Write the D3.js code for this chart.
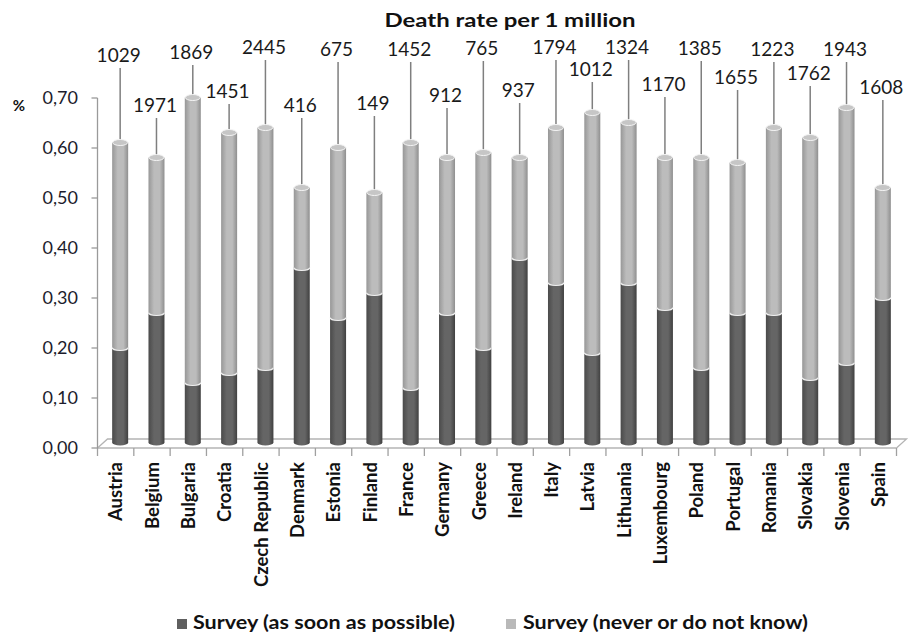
<!DOCTYPE html>
<html>
<head>
<meta charset="utf-8">
<script src="https://cdn.jsdelivr.net/npm/d3@7"></script>
<style>
  html, body { margin: 0; padding: 0; background: #fff; }
  svg { display: block; font-family: Lato, "Open Sans", sans-serif; }
</style>
</head>
<body>
<svg id="chart" width="909" height="635"></svg>
<script>
// Countries in display order
const countries = ["Austria", "Belgium", "Bulgaria", "Croatia", "Czech Republic", "Denmark",
  "Estonia", "Finland", "France", "Germany", "Greece", "Ireland", "Italy", "Latvia",
  "Lithuania", "Luxembourg", "Poland", "Portugal", "Romania", "Slovakia", "Slovenia", "Spain"];

// Survey share answering "as soon as possible"
const soonShare = [0.19, 0.26, 0.12, 0.14, 0.15, 0.35, 0.25, 0.30, 0.11, 0.26, 0.19,
  0.37, 0.32, 0.18, 0.32, 0.27, 0.15, 0.26, 0.26, 0.13, 0.16, 0.29];

// Survey share answering "never or do not know" (stacked on top)
const neverShare = [0.41, 0.31, 0.57, 0.48, 0.48, 0.16, 0.34, 0.20, 0.49, 0.31, 0.39,
  0.20, 0.31, 0.48, 0.32, 0.30, 0.42, 0.30, 0.37, 0.48, 0.51, 0.22];

// Death rate per 1 million inhabitants
const deathRate = [1029, 1971, 1869, 1451, 2445, 416, 675, 149, 1452, 912, 765,
  937, 1794, 1012, 1324, 1170, 1385, 1655, 1223, 1762, 1943, 1608];

// Value-axis ticks
const yTicks = [0, 0.1, 0.2, 0.3, 0.4, 0.5, 0.6, 0.7];

const seriesNames = ["Survey (as soon as possible)", "Survey (never or do not know)"];

// Height (in axis units) at which each death-rate callout is placed
const calloutLevel = [0.786, 0.686, 0.792, 0.714, 0.802, 0.686, 0.798, 0.690, 0.798, 0.706, 0.800,
  0.716, 0.802, 0.758, 0.802, 0.728, 0.800, 0.742, 0.798, 0.750, 0.798, 0.722];

const svg = d3.select("#chart");

// Front plane of the 3-D box
const x = d3.scaleBand().domain(countries).range([97.5, 896.5]).padding(0);
const y = d3.scaleLinear().domain([0, 0.7]).range([448, 98]);

// Depth offsets: floor back edge and the plane the columns stand in
const backDx = 10, backDy = 9;
const barDx = 4.5, barDy = 5.5;
const barW = 16, capRy = 3;

const fmt = v => d3.format(".2f")(v).replace(".", ",");

const defs = svg.append("defs");
function cylGrad(id, edgeL, mid, edgeR) {
  const g = defs.append("linearGradient").attr("id", id).attr("x1", 0).attr("x2", 1).attr("y1", 0).attr("y2", 0);
  g.append("stop").attr("offset", "0%").attr("stop-color", edgeL);
  g.append("stop").attr("offset", "35%").attr("stop-color", mid);
  g.append("stop").attr("offset", "70%").attr("stop-color", mid);
  g.append("stop").attr("offset", "100%").attr("stop-color", edgeR);
}
cylGrad("gDark", "#4a4a4a", "#656565", "#404040");
cylGrad("gLight", "#979797", "#bcbcbc", "#8f8f8f");

// Title
svg.append("text")
  .attr("x", 510).attr("y", 27)
  .attr("text-anchor", "middle")
  .attr("font-weight", 700).attr("font-size", 18.5)
  .attr("fill", "#111")
  .attr("textLength", 251).attr("lengthAdjust", "spacingAndGlyphs")
  .text("Death rate per 1 million");

// Axis unit
svg.append("text")
  .attr("x", 19).attr("y", 111)
  .attr("text-anchor", "middle")
  .attr("font-weight", 700).attr("font-size", 15)
  .attr("fill", "#111")
  .text("%");

// Floor outline
const x0 = x.range()[0], x1 = x.range()[1], yb = y(0);
const floor = svg.append("g").attr("stroke", "#b4b4b4").attr("stroke-width", 1.3).attr("fill", "none");
floor.append("path").attr("d",
  `M${x0},${yb} L${x0 + backDx},${yb - backDy} L${x1 + backDx},${yb - backDy} L${x1},${yb}`);
floor.append("line").attr("x1", x0).attr("x2", x1).attr("y1", yb).attr("y2", yb);

// Category ticks along the front edge
const catEdges = countries.map(c => x(c)).concat([x1]);
svg.append("g").selectAll("line").data(catEdges).join("line")
  .attr("x1", d => d).attr("x2", d => d)
  .attr("y1", yb).attr("y2", yb + 8)
  .attr("stroke", "#a0a0a0").attr("stroke-width", 1.3);

// Value axis
svg.append("line")
  .attr("x1", x0).attr("x2", x0).attr("y1", y(0.7)).attr("y2", yb)
  .attr("stroke", "#9a9a9a").attr("stroke-width", 1.3);
const yAxis = svg.append("g");
yAxis.selectAll("line").data(yTicks).join("line")
  .attr("x1", x0 - 6).attr("x2", x0)
  .attr("y1", d => y(d)).attr("y2", d => y(d))
  .attr("stroke", "#9a9a9a").attr("stroke-width", 1.3);
yAxis.selectAll("text").data(yTicks).join("text")
  .attr("x", 78).attr("y", d => y(d)).attr("dy", "0.36em")
  .attr("text-anchor", "end")
  .attr("font-size", 18).attr("fill", "#1c1c2c")
  .text(fmt);

// Category labels
svg.append("g").selectAll("text").data(countries).join("text")
  .attr("transform", d => `translate(${x(d) + x.bandwidth() / 2},462) rotate(-90)`)
  .attr("dy", "0.36em")
  .attr("text-anchor", "end")
  .attr("font-weight", 700).attr("font-size", 18.5)
  .attr("fill", "#111")
  .text(d => d);

// Columns (stacked cylinders)
const yb3 = v => y(v) - barDy;
const cx = c => x(c) + x.bandwidth() / 2 + barDx;

const rows = countries.map((c, i) => ({
  c, soon: soonShare[i], never: neverShare[i], total: soonShare[i] + neverShare[i],
  rate: deathRate[i], level: calloutLevel[i]
}));

const bars = svg.append("g").selectAll("g").data(rows).join("g");

// Callout leader lines behind columns
bars.append("line")
  .attr("x1", d => cx(d.c)).attr("x2", d => cx(d.c))
  .attr("y1", d => y(d.level) + 13).attr("y2", d => yb3(d.total))
  .attr("stroke", "#7f7f7f").attr("stroke-width", 1.5);

function segPath(cxv, yTop, yBot) {
  const l = cxv - barW / 2, r = cxv + barW / 2;
  return `M${l},${yTop} L${l},${yBot} A${barW / 2},${capRy} 0 0 0 ${r},${yBot} L${r},${yTop} Z`;
}

// lower segment
bars.append("path")
  .attr("d", d => segPath(cx(d.c), yb3(d.soon), yb3(0)))
  .attr("fill", "url(#gDark)");
// upper segment
bars.append("path")
  .attr("d", d => segPath(cx(d.c), yb3(d.total), yb3(d.soon)))
  .attr("fill", "url(#gLight)");
// seam between segments
bars.append("path")
  .attr("d", d => {
    const c = cx(d.c), yy = yb3(d.soon);
    return `M${c - barW / 2},${yy} A${barW / 2},${capRy} 0 0 0 ${c + barW / 2},${yy}`;
  })
  .attr("fill", "none").attr("stroke", "#f0f0f0").attr("stroke-width", 1.2);
// top cap
bars.append("ellipse")
  .attr("cx", d => cx(d.c)).attr("cy", d => yb3(d.total))
  .attr("rx", barW / 2 - 0.5).attr("ry", capRy)
  .attr("fill", "#c6c6c6").attr("stroke", "#f4f4f4").attr("stroke-width", 1);

// Death-rate callouts
bars.append("text")
  .attr("x", d => cx(d.c) - 1.5).attr("y", d => y(d.level)).attr("dy", "0.36em")
  .attr("text-anchor", "middle")
  .attr("font-size", 19).attr("fill", "#1a1a1a")
  .text(d => d.rate);

// Legend
const legend = svg.append("g");
const legendItems = [
  { name: seriesNames[0], fill: "#5f5f5f", sx: 177, tx: 193, tw: 262 },
  { name: seriesNames[1], fill: "#b9b9b9", sx: 506, tx: 523, tw: 285 }
];
legend.selectAll("rect").data(legendItems).join("rect")
  .attr("x", d => d.sx).attr("y", 619).attr("width", 10).attr("height", 10)
  .attr("fill", d => d.fill);
legend.selectAll("text").data(legendItems).join("text")
  .attr("x", d => d.tx).attr("y", 629)
  .attr("font-weight", 700).attr("font-size", 18.5).attr("fill", "#111")
  .attr("textLength", d => d.tw).attr("lengthAdjust", "spacingAndGlyphs")
  .text(d => d.name);
</script>
</body>
</html>
